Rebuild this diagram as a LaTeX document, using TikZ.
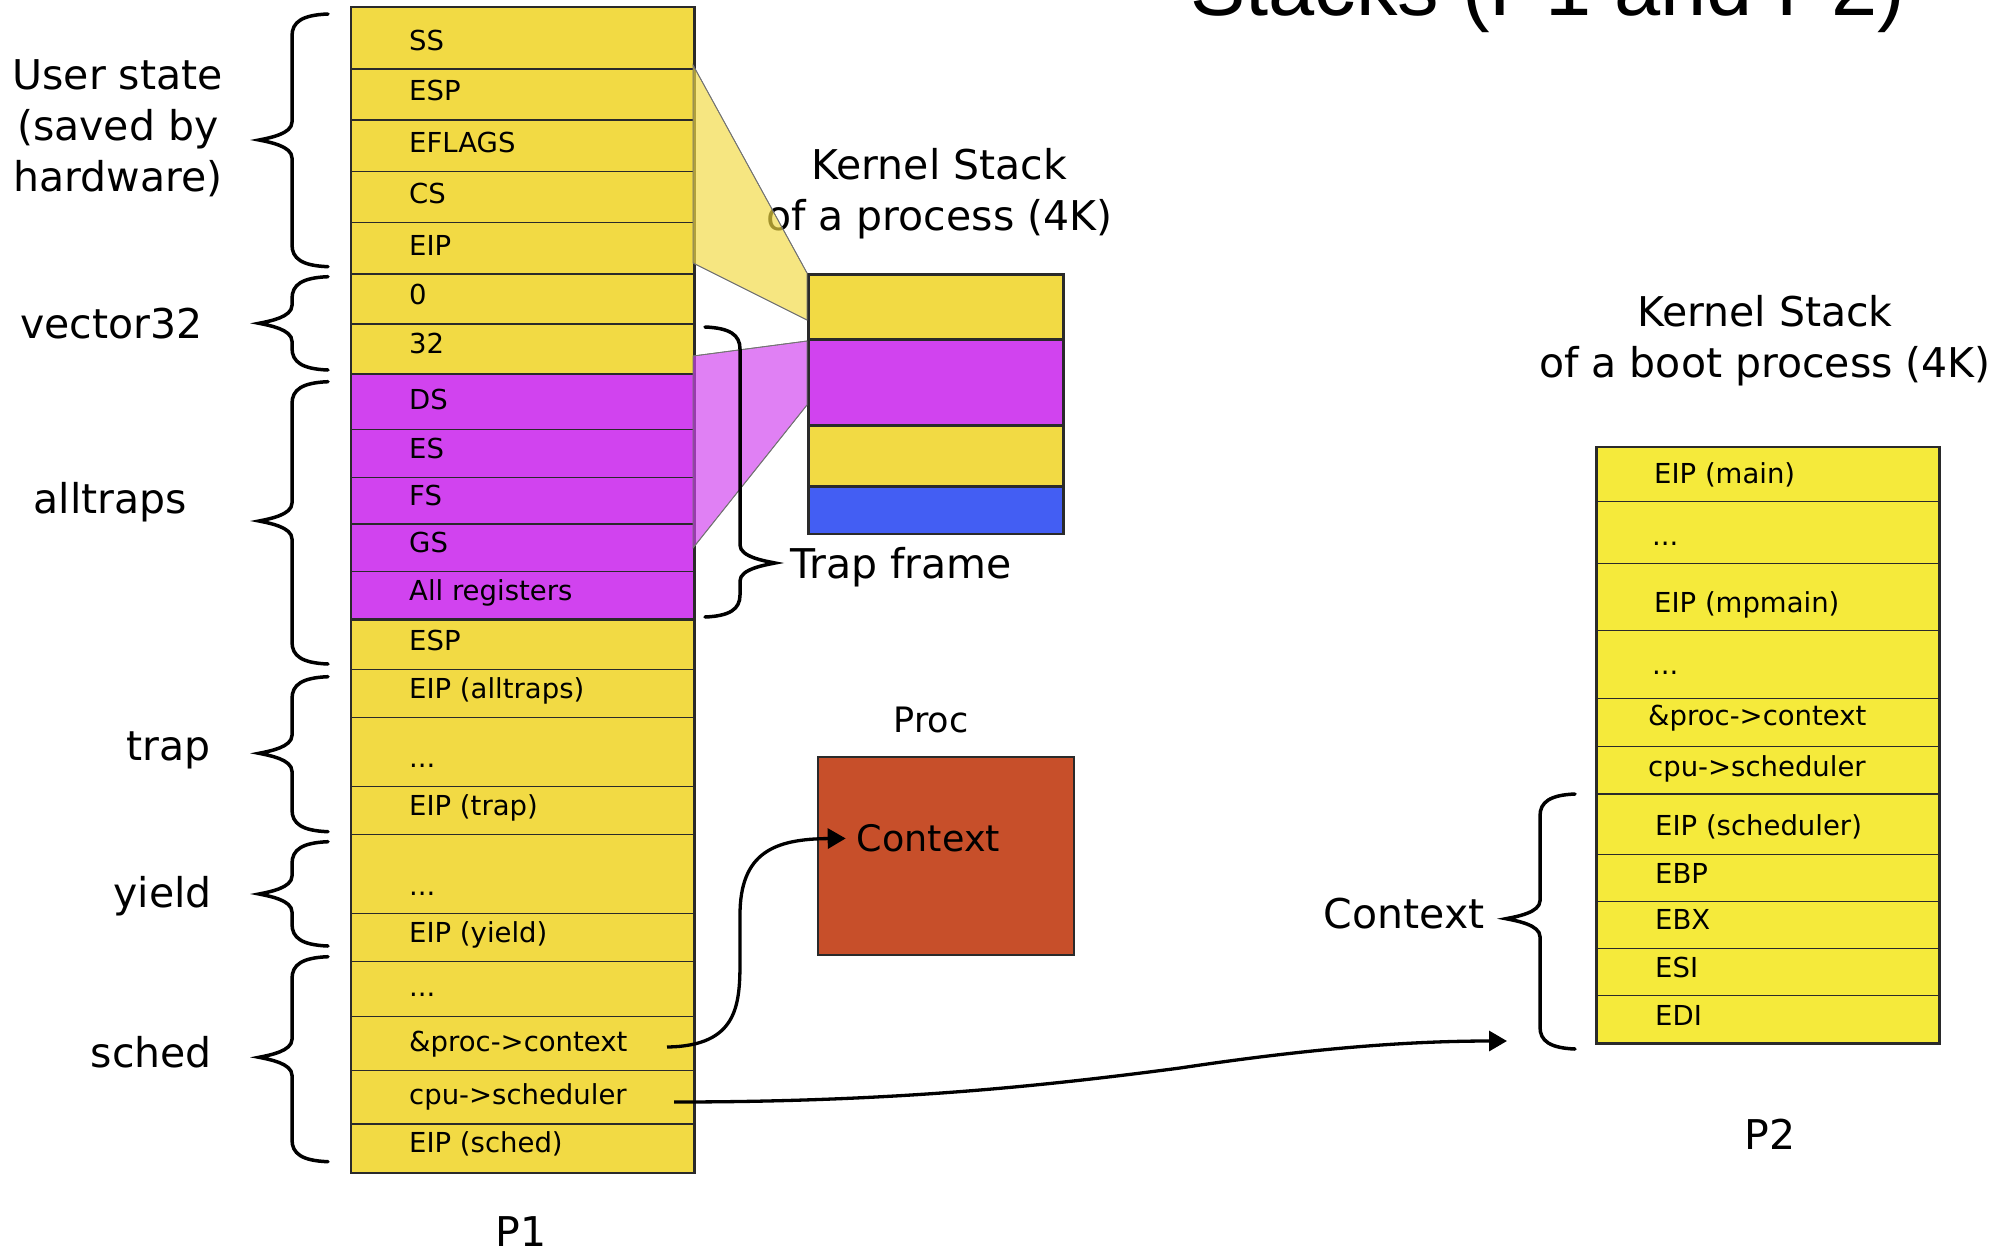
\documentclass[tikz,border=0pt]{standalone}
\usepackage{fontspec}
\setmainfont{DejaVu Sans}
\newfontfamily\titlefont{Liberation Sans}
\usetikzlibrary{arrows.meta}
\definecolor{pyel}{HTML}{F2DA44}
\definecolor{pyeltwo}{HTML}{F5EA3B}
\definecolor{pmag}{HTML}{D143EF}
\definecolor{pblue}{HTML}{435EF3}
\definecolor{pproc}{HTML}{C74F2A}
\definecolor{edgec}{HTML}{2A2A2A}
\tikzset{
  cellbox/.style={draw=edgec, line width=1.3pt, inner sep=0pt, anchor=north west},
  celltxt/.style={inner sep=0pt, anchor=base west, font=\fontsize{27.5}{33}\selectfont},
  bigtxt/.style={inner sep=0pt, anchor=base, font=\fontsize{41}{49}\selectfont},
  brc/.style={line width=3.5pt, line cap=round},
  frm/.style={draw=edgec, line width=2.5pt},
  conn/.style={line width=3.3pt, -{Triangle[length=18pt,width=20pt]}},
  fan/.style={draw=black!55, line width=0.8pt, fill opacity=0.67},
}
% #1 name #2 xl #3 xr #4 yt #5 yb #6 fill #7 text x #8 baseline #9 text
\newcommand\stkcell[9]{%
  \node[cellbox, fill=#6, minimum width={#3pt-#2pt}, minimum height={#5pt-#4pt}] (#1) at (#2,#4) {};
  \node[celltxt] (#1t) at (#7,#8) {#9};
}
% left-pointing brace: #1 x ends, #2 x spine, #3 x tip, #4 y top, #5 y tip, #6 y bottom
\newcommand\leftbr[6]{%
  \draw[brc] (#1,#4) .. controls (#2+10,#4+1) and (#2,#4+8) .. (#2,#4+22)
    -- (#2,#5-18) .. controls (#2,#5-6) and (#3+10,#5-2) .. (#3,#5)
    .. controls (#3+10,#5+2) and (#2,#5+6) .. (#2,#5+18)
    -- (#2,#6-22) .. controls (#2,#6-8) and (#2+10,#6-1) .. (#1,#6);
}
\newcommand\rightbr[6]{%
  \draw[brc] (#1,#4) .. controls (#2-10,#4+1) and (#2,#4+8) .. (#2,#4+22)
    -- (#2,#5-18) .. controls (#2,#5-6) and (#3-10,#5-2) .. (#3,#5)
    .. controls (#3-10,#5+2) and (#2,#5+6) .. (#2,#5+18)
    -- (#2,#6-22) .. controls (#2,#6-8) and (#2-10,#6-1) .. (#1,#6);
}
\begin{document}
\begin{tikzpicture}[x=1pt, y=-1pt]
\useasboundingbox[fill=white] (0,0) rectangle (2016,1250);

% ---------- title (cut off at top) ----------
\node[inner sep=0pt, anchor=base west, font=\titlefont\fontsize{83}{90}\selectfont] (title) at (1190,15) {Stacks (P1 and P2)};

% ---------- P1 stack ----------
\stkcell{p1c1}{351}{693}{7}{68.3}{pyel}{409}{50}{SS}
\stkcell{p1c2}{351}{693}{68.3}{119.3}{pyel}{409}{100.7}{ESP}
\stkcell{p1c3}{351}{693}{119.3}{170.7}{pyel}{409}{152.3}{EFLAGS}
\stkcell{p1c4}{351}{693}{170.7}{222}{pyel}{409}{203.3}{CS}
\stkcell{p1c5}{351}{693}{222}{273.3}{pyel}{409}{255}{EIP}
\stkcell{p1c6}{351}{693}{273.3}{323.3}{pyel}{409}{304.3}{0}
\stkcell{p1c7}{351}{693}{323.3}{374}{pyel}{409}{353.3}{32}
\stkcell{p1c8}{351}{693}{374}{429}{pmag}{409}{409.5}{DS}
\stkcell{p1c9}{351}{693}{429}{476.7}{pmag}{409}{458.3}{ES}
\stkcell{p1c10}{351}{693}{476.7}{523.3}{pmag}{409}{505}{FS}
\stkcell{p1c11}{351}{693}{523.3}{571}{pmag}{409}{552.3}{GS}
\stkcell{p1c12}{351}{693}{571}{618.3}{pmag}{409}{600}{All registers}
\stkcell{p1c13}{351}{693}{618.3}{669}{pyel}{409}{650}{ESP}
\stkcell{p1c14}{351}{693}{669}{717}{pyel}{409}{698.5}{EIP (alltraps)}
\stkcell{p1c15}{351}{693}{717}{785.7}{pyel}{409}{767.3}{...}
\stkcell{p1c16}{351}{693}{785.7}{833.5}{pyel}{409}{815}{EIP (trap)}
\stkcell{p1c17}{351}{693}{833.5}{913}{pyel}{409}{895}{...}
\stkcell{p1c18}{351}{693}{913}{961}{pyel}{409}{942.7}{EIP (yield)}
\stkcell{p1c19}{351}{693}{961}{1015.7}{pyel}{409}{996.7}{...}
\stkcell{p1c20}{351}{693}{1015.7}{1070}{pyel}{409}{1051}{\&proc->context}
\stkcell{p1c21}{351}{693}{1070}{1123.3}{pyel}{409}{1104.3}{cpu->scheduler}
\stkcell{p1c22}{351}{693}{1123.3}{1171.7}{pyel}{409}{1152.7}{EIP (sched)}
\draw[frm] (p1c1.north west) rectangle (p1c22.south east);
\draw[frm] (p1c8.north west) rectangle (p1c12.south east);
\node[bigtxt] (p1lbl) at (521,1246) {P1};

% ---------- left labels ----------
\node[bigtxt] (us1) at (117.7,89.3) {User state};
\node[bigtxt] (us2) at (117.7,140) {(saved by};
\node[bigtxt] (us3) at (117.7,191.7) {hardware)};
\node[bigtxt] (lvec) at (111.3,338.3) {vector32};
\node[bigtxt] (lall) at (110.2,513.3) {alltraps};
\node[bigtxt, anchor=base east] (ltrap) at (211,760) {trap};
\node[bigtxt, anchor=base east] (lyield) at (212,907.3) {yield};
\node[bigtxt, anchor=base east] (lsched) at (212,1067.3) {sched};

\leftbr{328}{292}{259}{14}{140}{266.7}
\leftbr{328}{292}{259}{276.7}{323.3}{370}
\leftbr{328}{292}{259}{381.7}{521}{664}
\leftbr{328}{292}{259}{676.7}{753.3}{831.7}
\leftbr{328}{292}{259}{841.7}{894}{946}
\leftbr{328}{292}{259}{956.7}{1057.3}{1161.7}

% ---------- kernel stack of a process ----------
\node[bigtxt] (ks1l) at (939.3,179.3) {Kernel Stack};
\node[bigtxt] (ks2l) at (939.3,230) {of a process (4K)};
\node[cellbox, line width=2.5pt, fill=pyel, minimum width=255pt, minimum height=65pt] (ks1) at (807,273) {};
\node[cellbox, line width=2.5pt, fill=pmag, minimum width=255pt, minimum height=86pt] (ks2) at (807,338) {};
\node[cellbox, line width=2.5pt, fill=pyel, minimum width=255pt, minimum height=61pt] (ks3) at (807,424) {};
\node[cellbox, line width=2.5pt, fill=pblue, minimum width=255pt, minimum height=47.7pt] (ks4) at (807,485) {};

% fans
\fill[fan, fill=pyel] (693,65) -- (807,273) -- (807,320) -- (693,263) -- cycle;
\fill[fan, fill=pmag] (693,356) -- (807,341) -- (807,405) -- (693,548) -- cycle;
\draw[black!55, line width=0.8pt] (693,65) -- (807,273) (807,320) -- (693,263);
\draw[black!55, line width=0.8pt] (693,356) -- (807,341) (807,405) -- (693,548);

% trap frame brace
\rightbr{705}{740}{775}{327}{563}{617}
\node[bigtxt, anchor=base west] (trapf) at (790,578.3) {Trap frame};

% ---------- Proc ----------
\node[inner sep=0pt, anchor=base, font=\fontsize{35}{42}\selectfont] (proclbl) at (931,732.3) {Proc};
\node[draw=edgec, line width=2pt, fill=pproc, inner sep=0pt, anchor=north west,
      minimum width=256pt, minimum height=198.3pt] (proc) at (816.7,756) {};
\node[inner sep=0pt, anchor=base west, font=\fontsize{36.5}{44}\selectfont] (ctx) at (856.7,851.7) {Context};

% ---------- P2 stack ----------
\node[bigtxt] (bs1l) at (1765,326.7) {Kernel Stack};
\node[bigtxt] (bs2l) at (1765,377.3) {of a boot process (4K)};
\stkcell{p2c1}{1596.5}{1938.3}{447}{500.5}{pyeltwo}{1654}{483}{EIP (main)}
\stkcell{p2c2}{1596.5}{1938.3}{500.5}{562.5}{pyeltwo}{1652}{545.4}{...}
\stkcell{p2c3}{1596.5}{1938.3}{562.5}{630}{pyeltwo}{1654}{612.8}{EIP (mpmain)}
\stkcell{p2c4}{1596.5}{1938.3}{630}{698}{pyeltwo}{1652}{674.6}{...}
\stkcell{p2c5}{1596.5}{1938.3}{698}{745.5}{pyeltwo}{1648}{725.1}{\&proc->context}
\stkcell{p2c6}{1596.5}{1938.3}{745.5}{794}{pyeltwo}{1648}{776.9}{cpu->scheduler}
\stkcell{p2c7}{1596.5}{1938.3}{794}{853.5}{pyeltwo}{1655}{835.8}{EIP (scheduler)}
\stkcell{p2c8}{1596.5}{1938.3}{853.5}{900.5}{pyeltwo}{1655}{883}{EBP}
\stkcell{p2c9}{1596.5}{1938.3}{900.5}{948}{pyeltwo}{1655}{929.3}{EBX}
\stkcell{p2c10}{1596.5}{1938.3}{948}{995}{pyeltwo}{1655}{977.7}{ESI}
\stkcell{p2c11}{1596.5}{1938.3}{995}{1042}{pyeltwo}{1655}{1025.2}{EDI}
\draw[frm] (p2c1.north west) rectangle (p2c11.south east);
\draw[frm] (p2c7.north west) -- (p2c7.north east);
\node[bigtxt] (p2lbl) at (1770,1149.3) {P2};
\node[bigtxt, anchor=base west] (ctxlbl) at (1323.7,928.3) {Context};
\leftbr{1575}{1540}{1506}{794}{918.7}{1049}

% ---------- connectors ----------
\coordinate (a1s) at (667,1047);
\draw[conn] (a1s) .. controls (738,1046) and (740,1005) .. (740,960)
  -- (740,915) .. controls (740,852) and (775,839) .. ([xshift=-11pt]ctx.west);
\coordinate (a2s) at (674,1102);
\coordinate (a2e) at (1507,1041);
\draw[conn] (a2s) .. controls (900,1102) and (1050,1085) .. (1180,1068)
  .. controls (1300,1050) and (1400,1041) .. (a2e);
\end{tikzpicture}
\end{document}
